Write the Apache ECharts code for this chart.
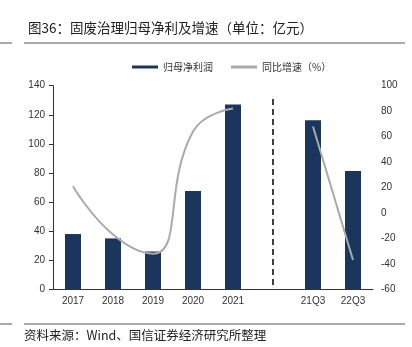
<!DOCTYPE html>
<html><head><meta charset="utf-8">
<script src="https://cdn.jsdelivr.net/npm/echarts@6/dist/echarts.min.js"></script>
<style>html,body{margin:0;padding:0;background:#fff}#c{width:412px;height:347px}</style>
</head><body><div id="c"></div>
<script>
const categories = ['2017','2018','2019','2020','2021',' ','21Q3','22Q3'];
const profit = [38, 35, 26, 67.6, 127, null, 116.3, 81.3];
const growth = [21, -17, -32, 64, 82, null, 68, -37];
const leftTicks = [0, 140, 20];
const rightTicks = [-60, 100, 20];
const FONT = "'Liberation Sans','Noto Sans CJK SC',sans-serif";
const CJK = "'Noto Sans CJK SC',sans-serif";

const chart = echarts.init(document.getElementById('c'), null, {renderer:'canvas'});
chart.setOption({
  animation:false,
  backgroundColor:'#fff',
  title:{text:'图36：固废治理归母净利及增速（单位：亿元）', left:23, top:16,
    textStyle:{fontFamily:CJK, fontSize:13.5, fontWeight:'normal', color:'#222'}},
  graphic:[
    {type:'line', shape:{x1:24,y1:43,x2:405,y2:43}, style:{stroke:'#555',lineWidth:1}},
    {type:'line', shape:{x1:0,y1:43,x2:12,y2:43}, style:{stroke:'#555',lineWidth:1}},
    {type:'line', shape:{x1:24,y1:324,x2:405,y2:324}, style:{stroke:'#555',lineWidth:1}},
    {type:'line', shape:{x1:0,y1:324,x2:12,y2:324}, style:{stroke:'#555',lineWidth:1}},
    {type:'text', left:24, top:329, style:{text:'资料来源：Wind、国信证券经济研究所整理', font:'12.5px '+CJK, fill:'#222'}}
  ],
  legend:{
    top:57, left:127, itemWidth:26, itemHeight:3, itemGap:18,
    textStyle:{fontFamily:CJK, fontSize:10, color:'#333'},
    data:[
      {name:'归母净利润', icon:'rect', itemStyle:{color:'#1b365d'}},
      {name:'同比增速（%）', icon:'rect', itemStyle:{color:'#aaa'}}
    ]
  },
  grid:{left:53, right:39, top:85.7, bottom:57.7},
  xAxis:{type:'category', data:categories, boundaryGap:true,
    axisLine:{lineStyle:{color:'#333', width:1}},
    axisTick:{inside:true, length:4, lineStyle:{color:'#333'}},
    axisLabel:{fontFamily:FONT, fontSize:10, color:'#333', margin:7}},
  yAxis:[
    {type:'value', min:leftTicks[0], max:leftTicks[1], interval:leftTicks[2],
      axisLine:{show:true, lineStyle:{color:'#333'}},
      axisTick:{show:true, length:4, lineStyle:{color:'#333'}},
      splitLine:{show:false},
      axisLabel:{fontFamily:FONT, fontSize:10, color:'#333', margin:8}},
    {type:'value', min:rightTicks[0], max:rightTicks[1], interval:rightTicks[2],
      axisLine:{show:false}, axisTick:{show:false}, splitLine:{show:false},
      axisLabel:{fontFamily:FONT, fontSize:10, color:'#333', margin:8}}
  ],
  series:[
    {name:'归母净利润', type:'bar', data:profit, barWidth:16,
      itemStyle:{color:'#1b365d'},
      markLine:{silent:true, symbol:'none', label:{show:false},
        lineStyle:{color:'#000', type:[6,4], width:1.5},
        data:[[{coord:[5,3]},{coord:[5,131]}]]}},
    {name:'同比增速（%）', type:'line', yAxisIndex:1, data:growth, smooth:0.5,
      connectNulls:false, showSymbol:false, symbol:'none',
      lineStyle:{color:'#aaa', width:2}}
  ]
});
</script></body></html>
